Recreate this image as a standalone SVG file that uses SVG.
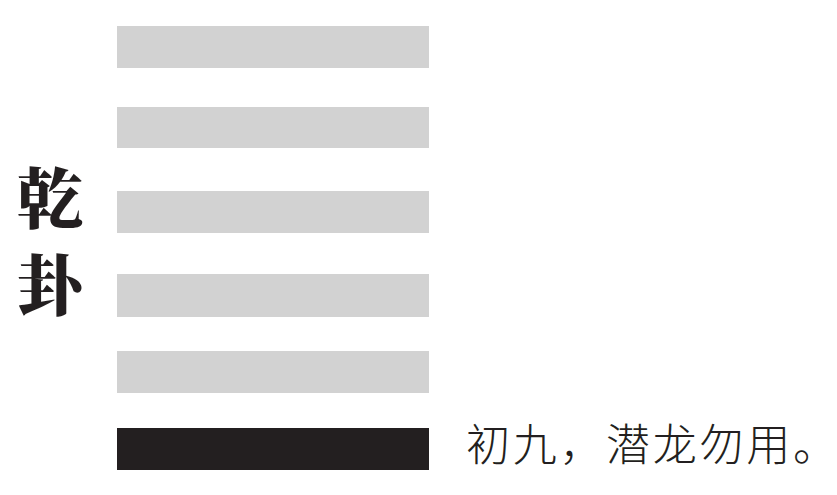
<svg xmlns="http://www.w3.org/2000/svg" width="837" height="495" viewBox="0 0 837 495">
<style>
.yao{fill:#d2d2d2}
.yang{fill:#231f20}
.title{font-family:"Noto Serif CJK SC","Noto Sans CJK SC",serif;font-weight:900;font-size:66px;fill:#231f20;text-anchor:middle}
.line{font-family:"Noto Sans CJK SC",sans-serif;font-weight:300;font-size:44px;fill:#231f20}
</style>
<rect width="837" height="495" fill="#ffffff"/>
<g id="title">
<text class="title" x="50" y="223">乾</text>
<text class="title" x="50" y="310">卦</text>
</g>
<g id="line6"><rect class="yao" x="117" y="26" width="312" height="42"/></g>
<g id="line5"><rect class="yao" x="117" y="107" width="312" height="41"/></g>
<g id="line4"><rect class="yao" x="117" y="191" width="312" height="42"/></g>
<g id="line3"><rect class="yao" x="117" y="274" width="312" height="43"/></g>
<g id="line2"><rect class="yao" x="117" y="351" width="312" height="42"/></g>
<g id="line1"><rect class="yang" x="117" y="428" width="312" height="42"/></g>
<g id="label1"><text class="line" x="466" y="461" dx="0 2.7 2.7 2.7 2.7 2.7 2.7 2.7">初九，潜龙勿用。</text></g>
</svg>
